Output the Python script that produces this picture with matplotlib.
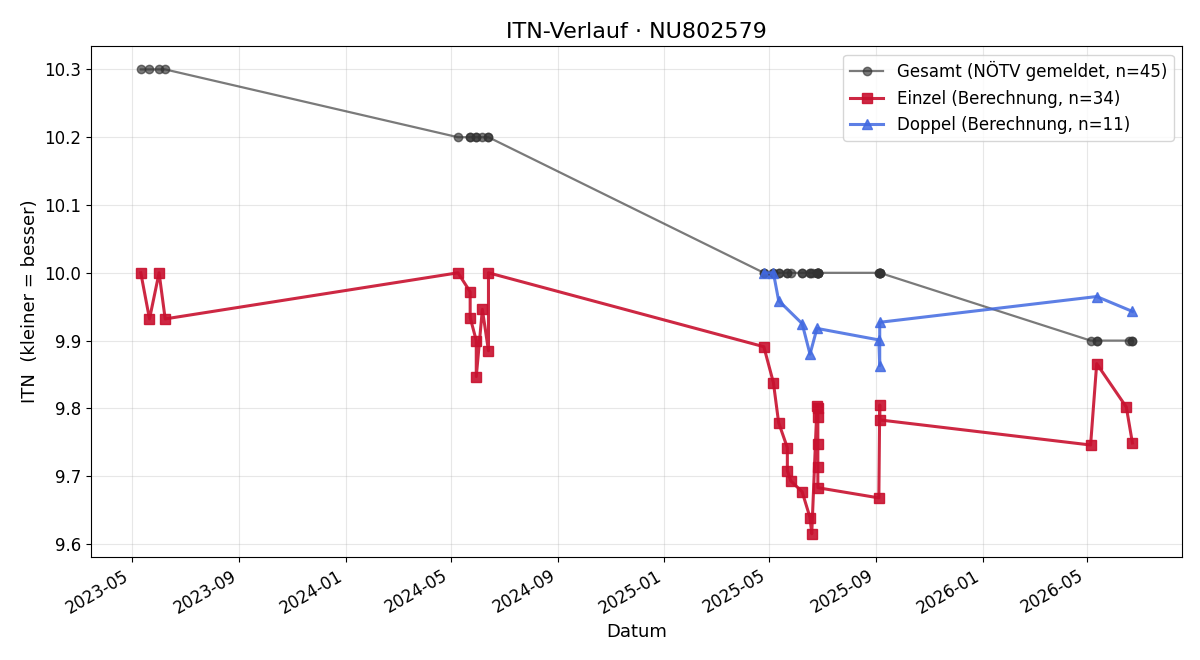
import matplotlib
matplotlib.use("Agg")
import matplotlib.pyplot as plt
import matplotlib.dates as mdates
import pandas as pd

# Einzel (singles) ITN computed per match
einzel_dates = [
    "2023-05-11", "2023-05-21", "2023-06-01", "2023-06-08",
    "2024-05-09", "2024-05-23", "2024-05-23", "2024-05-30", "2024-05-30",
    "2024-06-06", "2024-06-13", "2024-06-13",
    "2025-04-25", "2025-05-06", "2025-05-12", "2025-05-22", "2025-05-22",
    "2025-05-26", "2025-06-08", "2025-06-17", "2025-06-19",
    "2025-06-25", "2025-06-26", "2025-06-26", "2025-06-26", "2025-06-26", "2025-06-26",
    "2025-09-04", "2025-09-05", "2025-09-05",
    "2026-05-05", "2026-05-12", "2026-06-15", "2026-06-22",
]
einzel_itn = [
    10.000, 9.932, 10.000, 9.932,
    10.000, 9.972, 9.934, 9.900, 9.847,
    9.946, 9.885, 10.000,
    9.891, 9.838, 9.779, 9.742, 9.708,
    9.693, 9.677, 9.639, 9.615,
    9.804, 9.800, 9.787, 9.748, 9.713, 9.683,
    9.668, 9.805, 9.783,
    9.746, 9.866, 9.802, 9.749,
]

# Doppel (doubles) ITN computed per match
doppel_dates = [
    "2025-04-25", "2025-05-06", "2025-05-12", "2025-06-08", "2025-06-17",
    "2025-06-25", "2025-09-04", "2025-09-05", "2025-09-05",
    "2026-05-12", "2026-06-22",
]
doppel_itn = [
    10.000, 10.000, 9.959, 9.925, 9.880,
    9.918, 9.901, 9.863, 9.927,
    9.965, 9.943,
]

# Gesamt: ITN as reported by the federation at each match date
gesamt_dates = [
    "2023-05-11", "2023-05-21", "2023-06-01", "2023-06-08",
    "2024-05-09", "2024-05-23", "2024-05-23", "2024-05-30", "2024-05-30",
    "2024-06-06", "2024-06-13", "2024-06-13",
    "2025-04-25", "2025-04-25", "2025-05-06", "2025-05-06", "2025-05-12",
    "2025-05-12", "2025-05-22", "2025-05-22", "2025-05-26", "2025-06-08",
    "2025-06-08", "2025-06-17", "2025-06-17", "2025-06-19", "2025-06-25",
    "2025-06-25", "2025-06-26", "2025-06-26", "2025-06-26", "2025-06-26",
    "2025-06-26", "2025-09-04", "2025-09-04", "2025-09-05", "2025-09-05",
    "2025-09-05", "2025-09-05",
    "2026-05-05", "2026-05-12", "2026-05-12", "2026-06-18", "2026-06-22",
    "2026-06-22",
]
gesamt_itn = [10.3] * 4 + [10.2] * 8 + [10.0] * 27 + [9.9] * 6

fig, ax = plt.subplots(figsize=(12, 6.6), dpi=100)
fig.subplots_adjust(left=0.076, right=0.985, top=0.93, bottom=0.156)

ax.plot(pd.to_datetime(gesamt_dates), gesamt_itn, "-o", color="#333333",
        alpha=0.65, lw=1.6, ms=6, label="Gesamt (NÖTV gemeldet, n=45)")
ax.plot(pd.to_datetime(einzel_dates), einzel_itn, "-s", color="#C8102E",
        alpha=0.9, lw=2.2, ms=7, label="Einzel (Berechnung, n=34)")
ax.plot(pd.to_datetime(doppel_dates), doppel_itn, "-^", color="#4169E1",
        alpha=0.85, lw=2.2, ms=7, label="Doppel (Berechnung, n=11)")

ax.xaxis.set_major_locator(mdates.MonthLocator(bymonth=[1, 5, 9]))
ax.xaxis.set_major_formatter(mdates.DateFormatter("%Y-%m"))
fig.autofmt_xdate(rotation=30)
fig.subplots_adjust(left=0.076, right=0.985, top=0.93, bottom=0.156)

ax.grid(True, alpha=0.3)
ax.set_title("ITN-Verlauf · NU802579", fontsize=16)
ax.set_xlabel("Datum", fontsize=13)
ax.set_ylabel("ITN  (kleiner = besser)", fontsize=13)
ax.tick_params(labelsize=12)
ax.legend(loc="upper right", fontsize=12)

fig.savefig("out.png", dpi=100)
